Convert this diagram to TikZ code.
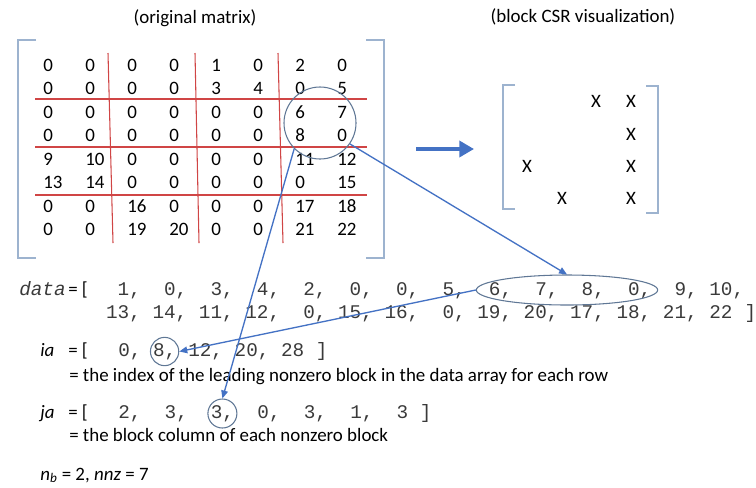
\documentclass[tikz,border=0pt]{standalone}
\usepackage{fontspec}
\setmainfont{Carlito}
\setmonofont{Liberation Mono}
\usepackage{tikz}
\usetikzlibrary{arrows.meta,shapes.geometric}
\definecolor{arrowblue}{HTML}{4472C4}
\definecolor{bracketblue}{HTML}{9DB3CF}
\definecolor{ringblue}{HTML}{5F7795}
\definecolor{gridred}{HTML}{D04545}
\definecolor{monogray}{HTML}{3A3A3A}
\newcommand{\txt}{\fontsize{14.2}{16}\selectfont}
\newcommand{\mono}{\fontsize{14.5}{16}\selectfont\ttfamily\color{monogray}}
\tikzset{
  cell/.style={font=\txt, inner sep=0pt, anchor=west},
  xmark/.style={font=\txt, inner sep=0pt},
  lbl/.style={font=\txt, inner sep=0pt, anchor=base west},
  arrtxt/.style={font=\mono, inner sep=0pt, anchor=base west},
  dataent/.style={font=\mono, inner sep=0pt, anchor=base east},
  ring/.style={circle, draw=ringblue, line width=0.8pt, inner sep=0pt},
  bracket/.style={draw=bracketblue, line width=1.1pt},
  gridline/.style={draw=gridred, line width=0.8pt},
  linkarrow/.style={-{Triangle[length=6pt,width=5pt]}, draw=arrowblue, line width=1pt},
  bigarrow/.style={-{Triangle[length=11pt,width=12pt]}, draw=arrowblue, line width=2.6pt},
}
\begin{document}
\begin{tikzpicture}[x=0.75pt, y=-0.75pt]
  \useasboundingbox (0,0) rectangle (756,487);

  \node[xmark] (titleL) at (195,18) {(original matrix)};
  \node[xmark] (titleR) at (583,17) {(block CSR visualization)};

  % original matrix
  \draw[bracket] (36,40) -- (18,40) -- (18,258) -- (36,258);
  \draw[bracket] (366,40) -- (384,40) -- (384,258) -- (366,258);
  \foreach \row [count=\r from 0] in {{0,0,0,0,1,0,2,0},{0,0,0,0,3,4,0,5},
      {0,0,0,0,0,0,6,7},{0,0,0,0,0,0,8,0},{9,10,0,0,0,0,11,12},
      {13,14,0,0,0,0,0,15},{0,0,16,0,0,0,17,18},{0,0,19,20,0,0,21,22}}
    \foreach \v [count=\c from 0] in \row
      \node[cell] (m\r\c) at (43+42*\c, 65+23.5*\r) {\v};
  \foreach \y in {99,147,195}
    \draw[gridline] (35,\y) -- (367,\y);
  \foreach \a/\b in {108/113,195/199,278/283}
    \draw[gridline] (\a,53) -- (\b,243);
  \node[ring, minimum size=54pt] (ring) at (320,123) {};

  % block CSR visualization
  \coordinate (arrS) at (416,149);
  \coordinate (arrE) at (474,149);
  \draw[bigarrow] (arrS) -- (arrE);
  \draw[bracket] (515,85) -- (503,85) -- (503,209) -- (515,209);
  \draw[bracket] (646,86) -- (658,86) -- (658,213) -- (646,213);
  \foreach \x/\y/\n in {596/101/a,631/101/b,631/134/c,527/166/d,631/166/e,562/198/f,631/198/g}
    \node[xmark] (x\n) at (\x,\y) {X};

  % data
  \node[arrtxt] (datalbl) at (19,295) {\textit{data}};
  \node[lbl] (dataeq) at (68,295) {= [};
  \foreach \v [count=\k from 0] in {1,0,3,4,2,0,0,5,6,7,8,0,9,10}
    \node[dataent] (d\k) at (141.2+46.4*\k,295) {\v,};
  \foreach \v [count=\k from 0] in {13,14,11,12,0,15,16,0,19,20,17,18,21}
    \node[dataent] (e\k) at (141.2+46.4*\k,318) {\v,};
  \node[dataent] (e13) at (732.8,318) {22};
  \node[arrtxt] (dataend) at (744.4,318) {]};
  \node[ellipse, draw=ringblue, line width=0.8pt, minimum width=136pt, minimum height=22.5pt] (ell) at (567,290) {};

  % ia
  \node[lbl] (ialbl) at (40,356) {\textit{ia}};
  \node[lbl] (iaeq) at (68,356) {= [};
  \node[arrtxt] (ia0) at (118,356) {0,};
  \node[ring, minimum size=19.5pt, font=\mono] (ia1) at (164.6,351.5) {8,};
  \node[arrtxt] (ia2) at (188,356) {12,};
  \node[arrtxt] (ia3) at (234.4,356) {20,};
  \node[arrtxt] (ia4) at (280.8,356) {28};
  \node[arrtxt] (iaend) at (315.6,356) {]};
  \node[lbl] (iadesc) at (69,381) {= the index of the leading nonzero block in the data array for each row};

  % ja
  \node[lbl] (jalbl) at (40,418) {\textit{ja}};
  \node[lbl] (jaeq) at (68,418) {= [};
  \node[arrtxt] (ja0) at (118,418) {2,};
  \node[arrtxt] (ja1) at (164.4,418) {3,};
  \node[ring, minimum size=21.75pt, font=\mono] (ja2) at (222.4,413.5) {3,};
  \node[arrtxt] (ja3) at (257.2,418) {0,};
  \node[arrtxt] (ja4) at (303.6,418) {3,};
  \node[arrtxt] (ja5) at (350,418) {1,};
  \node[arrtxt] (ja6) at (396.4,418) {3 ]};
  \node[lbl] (jadesc) at (69,441) {= the block column of each nonzero block};

  \node[lbl] (sizes) at (40,480) {\textit{n}\textsubscript{\textit{b}} = 2, \textit{nnz} = 7};

  \draw[linkarrow] (ring.-35) -- (ell.north);
  \draw[linkarrow] (ell.west) -- (ia1.east);
  \draw[linkarrow] (ring.-135) -- (ja2.north);
\end{tikzpicture}
\end{document}
